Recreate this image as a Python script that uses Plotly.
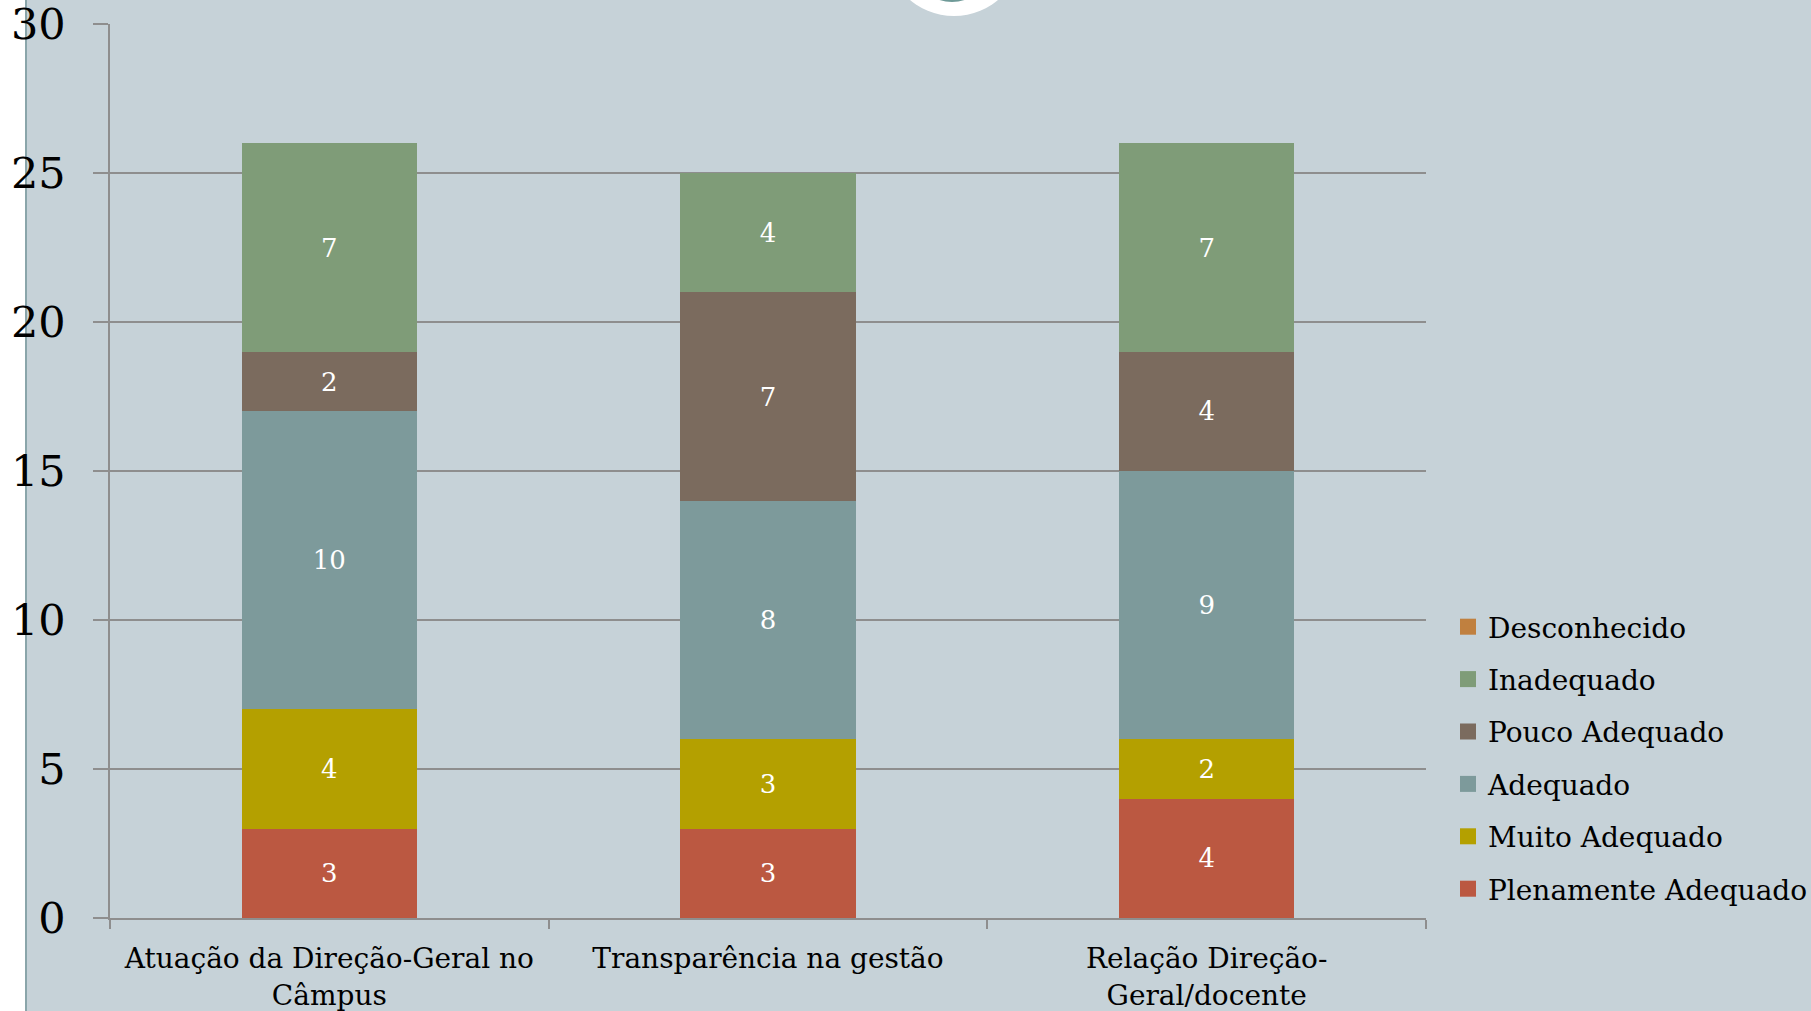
import plotly.graph_objects as go

categories = ["Atuação da Direção-Geral no<br>Câmpus", "Transparência na gestão", "Relação Direção-<br>Geral/docente"]
series_names = ["Plenamente Adequado", "Muito Adequado", "Adequado", "Pouco Adequado", "Inadequado", "Desconhecido"]
plenamente = [3, 3, 4]
muito = [4, 3, 2]
adequado = [10, 8, 9]
pouco = [2, 7, 4]
inadequado = [7, 4, 7]
desconhecido = [0, 0, 0]
y_ticks = [0, 5, 10, 15, 20, 25, 30]

series_values = [plenamente, muito, adequado, pouco, inadequado, desconhecido]
colors = ["#BB5841", "#B4A000", "#7D9A9B", "#7B6B5E", "#7F9C78", "#C0803F"]

BG = "#C6D2D8"
GRID = "#8E8E8E"
FONT = "DejaVu Serif"

W, H = 1811, 1011
L, R, T, B = 110, 385, 24, 93
PW, PH = W - L - R, H - T - B

def px(x):
    return (x - L) / PW

def py(y):
    return (H - B - y) / PH

fig = go.Figure()
for name, vals, col in zip(series_names, series_values, colors):
    fig.add_trace(go.Bar(
        x=categories, y=vals, name=name, marker=dict(color=col, line=dict(width=0)),
        text=[str(v) if v else "" for v in vals], textposition="inside",
        insidetextanchor="middle", textangle=0,
        textfont=dict(color="white", size=26, family=FONT),
        showlegend=False, hoverinfo="skip",
    ))
for name, col in reversed(list(zip(series_names, colors))):
    fig.add_trace(go.Scatter(
        x=[None], y=[None], mode="markers", name=name, legendgroup=name,
        marker=dict(symbol="square", size=16, color=col),
    ))

shapes = [
    dict(type="rect", xref="paper", yref="paper", x0=px(0), x1=px(25), y0=py(H), y1=py(0),
         fillcolor="white", line=dict(width=0), layer="below"),
    dict(type="line", xref="paper", yref="paper", x0=px(26), x1=px(26), y0=py(H), y1=py(0),
         line=dict(color="#8AA5AA", width=2), layer="below"),
    dict(type="circle", xref="paper", yref="paper", x0=px(954 - 68.5), x1=px(954 + 68.5),
         y0=py(-52.5 + 68.5), y1=py(-52.5 - 68.5), fillcolor="white", line=dict(width=0), layer="below"),
    dict(type="circle", xref="paper", yref="paper", x0=px(952 - 40), x1=px(952 + 40),
         y0=py(-38 + 40), y1=py(-38 - 40), fillcolor="#6F9A98", line=dict(width=0), layer="below"),
]

fig.update_layout(
    width=W, height=H, autosize=False,
    margin=dict(l=L, r=R, t=T, b=B, autoexpand=False),
    paper_bgcolor=BG, plot_bgcolor="rgba(0,0,0,0)",
    barmode="stack", bargap=0.6,
    font=dict(family=FONT, color="black"),
    shapes=shapes,
    legend=dict(
        x=px(1448), xanchor="left", y=py(758), yanchor="middle",
        traceorder="grouped", tracegroupgap=13,
        font=dict(size=28, family=FONT, color="black"),
        bgcolor="rgba(0,0,0,0)",
    ),
    xaxis=dict(
        tickson="boundaries", ticks="outside", ticklen=9, tickcolor=GRID, tickwidth=1.5,
        showline=True, linecolor=GRID, linewidth=1.5, showgrid=False,
        tickfont=dict(size=28, family=FONT, color="black"),
        ticklabelstandoff=15, automargin=False,
        range=[-0.5, 2.5],
    ),
    yaxis=dict(
        range=[0, 30], tickvals=y_ticks, ticktext=[str(v) for v in y_ticks],
        ticks="outside", ticklen=15, tickcolor=GRID, tickwidth=1.5,
        showline=True, linecolor=GRID, linewidth=1.5,
        showgrid=True, gridcolor=GRID, gridwidth=1.5, zeroline=False,
        tickfont=dict(size=43, family=FONT, color="black"),
        ticklabelstandoff=19, automargin=False, ticklabeloverflow="allow",
    ),
)

fig.write_html(
    "out.html",
    config={"displayModeBar": False},
    post_script="document.body.style.margin='0';document.body.style.overflow='hidden';",
)
